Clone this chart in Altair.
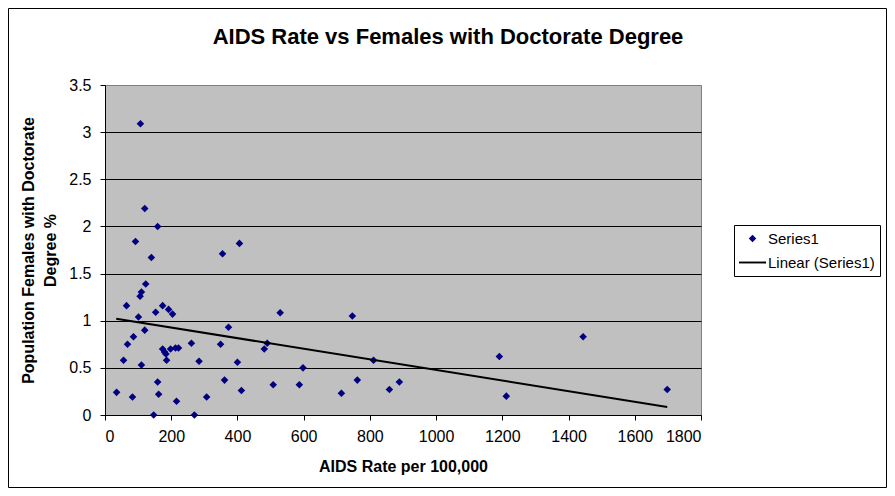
import altair as alt
import pandas as pd

aids_rate = [107, 120, 159, 92, 406, 355, 140, 123, 110, 106, 65, 174, 153, 192, 204, 101, 529,
             373, 120, 86, 68, 261, 349, 174, 180, 184, 198, 213, 222, 481, 490, 56, 186, 284,
             400, 110, 361, 159, 508, 587, 35, 162, 83, 307, 412, 216, 147, 270, 747, 598, 811,
             1191, 762, 714, 859, 889, 1212, 1444, 1698]
phd_pct = [3.09, 2.19, 2.0, 1.84, 1.82, 1.71, 1.67, 1.39, 1.305, 1.26, 1.16, 1.16, 1.09, 1.12,
           1.07, 1.04, 1.085, 0.93, 0.90, 0.83, 0.75, 0.76, 0.75, 0.70, 0.667, 0.646, 0.70, 0.71,
           0.71, 0.70, 0.76, 0.58, 0.58, 0.57, 0.56, 0.53, 0.37, 0.35, 0.32, 0.32, 0.24, 0.22,
           0.19, 0.19, 0.26, 0.146, 0.0, 0.0, 1.05, 0.50, 0.58, 0.62, 0.37, 0.23, 0.27, 0.35,
           0.20, 0.83, 0.27]
# Excel linear trendline, endpoints
trend_x = [34, 1698]
trend_y = [1.021, 0.085]
series_names = ["Series1", "Linear (Series1)"]
x_ticks = [0, 200, 400, 600, 800, 1000, 1200, 1400, 1600, 1800]
y_ticks = [0, 0.5, 1, 1.5, 2, 2.5, 3, 3.5]

df = pd.DataFrame({"aids": aids_rate, "phd": phd_pct, "series": series_names[0]})
df_trend = pd.DataFrame({"aids": trend_x, "phd": trend_y, "series": series_names[1]})

FONT = "Liberation Sans"
W, H = 596, 330
PL, PT, PR, PB = 97, 77, 186, 73

diamond = "M0,-0.28L0.28,0L0,0.28L-0.28,0Z"
dash = "M-1,-0.07L1,-0.07L1,0.07L-1,0.07Z"

color_scale = alt.Scale(domain=series_names, range=["#000080", "#000000"])
shape_scale = alt.Scale(domain=series_names, range=[diamond, dash])

legend = alt.Legend(
    title=None, orient="none", legendX=629, legendY=140,
    strokeColor="black", fillColor="white", cornerRadius=0, padding=5,
    symbolSize=729, clipHeight=17, rowPadding=7, labelOffset=2,
    labelFont=FONT, labelFontSize=15, labelColor="black",
    symbolStrokeWidth=0, symbolOpacity=1,
)

axis_common = dict(
    labelFont=FONT, labelFontSize=16, labelColor="black",
    titleFont=FONT, titleFontSize=16, titleFontWeight="bold", titleColor="black",
    domainColor="black", tickColor="black", tickSize=5,
)

x_enc = alt.X("aids:Q", scale=alt.Scale(domain=[0, 1800], nice=False),
              axis=alt.Axis(values=x_ticks, format="d", title="AIDS Rate per 100,000",
                            grid=False, labelPadding=8, titlePadding=14, **axis_common))
y_enc = alt.Y("phd:Q", scale=alt.Scale(domain=[0, 3.5], nice=False),
              axis=alt.Axis(values=y_ticks, format=".1~f",
                            title=["Population Females with Doctorate", "Degree %"],
                            titleAngle=-90, titleX=-85, titleY=165, titleAlign="center",
                            titleBaseline="top", titleLineHeight=22,
                            labelPadding=9, gridWidth=1,
                            gridColor=alt.condition("datum.value >= 3.5", alt.value("#808080"),
                                                    alt.value("black")),
                            **axis_common))

points = alt.Chart(df).mark_point(filled=True, opacity=1, size=729).encode(
    x=x_enc, y=y_enc,
    color=alt.Color("series:N", scale=color_scale, legend=legend),
    shape=alt.Shape("series:N", scale=shape_scale, legend=legend),
)

trend = alt.Chart(df_trend).mark_line(strokeWidth=2).encode(
    x="aids:Q", y="phd:Q",
    color=alt.Color("series:N", scale=color_scale, legend=legend),
)

frame = alt.Chart(alt.Data(values=[{"f": 1}])).mark_rect(
    fill="transparent", stroke="black", strokeWidth=1
).encode(
    x=alt.value(-PL + 0.5), x2=alt.value(W + PR - 0.5),
    y=alt.value(-PT + 0.5), y2=alt.value(H + PB - 0.5),
)

chart = alt.layer(frame, points, trend).properties(
    width=W, height=H,
    padding={"left": PL, "top": PT, "right": PR, "bottom": PB},
    autosize=alt.AutoSizeParams(type="none"),
    background="white",
    title=alt.Title("AIDS Rate vs Females with Doctorate Degree", font=FONT, fontSize=22,
                    fontWeight="bold", color="black", anchor="middle", frame="group",
                    dx=45, offset=-41),
).configure_view(
    fill="#C0C0C0", stroke="#808080", strokeWidth=1
)

chart.save("out.html", embed_options={"renderer": "svg", "actions": False})
